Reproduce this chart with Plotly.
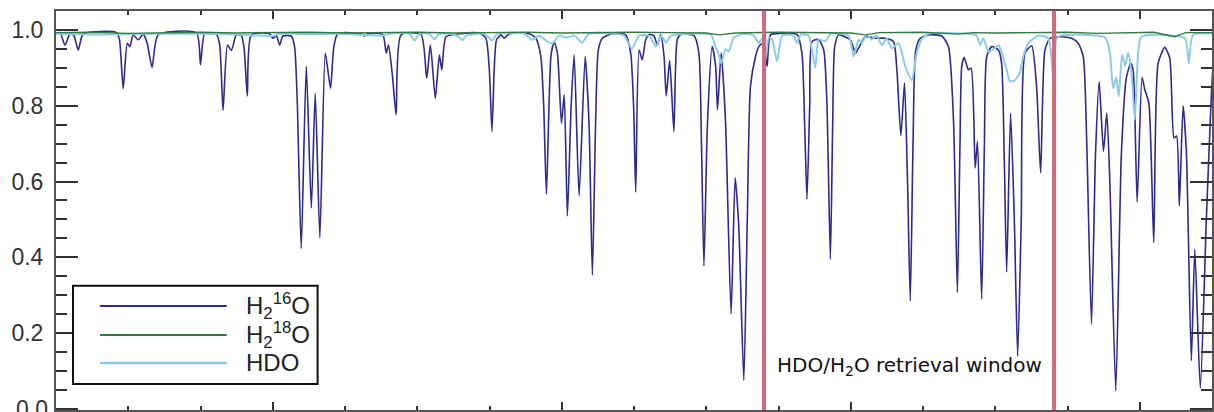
import plotly.graph_objects as go

# wavelength (nm) and transmission for H2(16)O
h216o_x = [2305.00, 2305.28, 2305.62, 2305.97, 2306.24, 2306.54, 2306.89, 2309.19, 2309.39, 2309.65,
           2309.93, 2310.11, 2310.34, 2310.69, 2311.03, 2311.31, 2311.65, 2312.07, 2314.72, 2315.00,
           2315.29, 2316.10, 2316.33, 2316.56, 2316.87, 2317.14, 2317.48, 2317.83, 2318.02, 2318.24,
           2318.52, 2319.78, 2320.01, 2320.25, 2320.48, 2320.70, 2321.28, 2321.51, 2321.70, 2321.97,
           2322.32, 2322.67, 2322.94, 2323.26, 2323.63, 2323.81, 2324.00, 2324.23, 2324.50, 2326.14,
           2326.35, 2326.56, 2327.61, 2327.85, 2328.01, 2328.28, 2328.54, 2328.88, 2330.26, 2330.65,
           2330.91, 2331.25, 2331.53, 2331.70, 2331.99, 2332.91, 2334.29, 2334.75, 2334.98, 2335.17,
           2335.33, 2335.49, 2335.79, 2336.02, 2336.37, 2337.75, 2338.21, 2338.55, 2338.75, 2338.94,
           2339.25, 2339.47, 2339.70, 2339.98, 2340.17, 2340.39, 2340.65, 2340.86, 2341.20, 2341.62,
           2341.89, 2342.12, 2342.34, 2342.53, 2342.81, 2343.50, 2344.43, 2344.77, 2344.97, 2345.12,
           2345.35, 2345.57, 2345.81, 2346.04, 2346.38, 2346.61, 2346.85, 2347.08, 2347.23, 2347.47,
           2347.76, 2347.99, 2348.23, 2349.15, 2349.49, 2349.67, 2349.84, 2350.08, 2350.41, 2350.65,
           2350.78, 2351.03, 2351.33, 2351.72, 2352.00, 2352.25, 2352.60, 2352.84, 2353.06, 2353.41,
           2353.64, 2353.93, 2354.21, 2354.44, 2355.13, 2356.28, 2356.62, 2356.81, 2356.97, 2357.16,
           2357.32, 2357.78, 2358.13, 2358.35, 2358.59, 2358.75, 2358.89, 2359.16, 2359.97, 2360.32,
           2360.54, 2361.01, 2361.70, 2362.39, 2362.96, 2363.19, 2363.47, 2363.72, 2363.93, 2364.12,
           2364.31, 2364.50, 2364.81, 2365.38, 2366.30, 2366.76, 2367.11, 2367.38, 2367.56, 2367.68,
           2367.85, 2368.14, 2368.33, 2368.61, 2368.77, 2369.06, 2369.25, 2369.41, 2369.75, 2370.22,
           2370.44, 2370.63, 2370.79, 2371.06, 2371.32, 2371.55, 2371.80, 2372.06, 2372.52, 2372.86,
           2373.14, 2373.44, 2373.79, 2374.59, 2375.28, 2375.74, 2376.09, 2376.32, 2376.66, 2376.94,
           2377.19, 2377.49, 2377.72, 2377.93, 2378.34, 2378.73, 2379.07, 2379.38, 2379.54, 2379.82,
           2380.16, 2380.35, 2380.63, 2380.97, 2381.27, 2381.73, 2382.08, 2382.37, 2382.55, 2382.74,
           2383.00, 2383.23, 2383.57, 2383.81, 2384.19, 2384.61, 2384.95, 2385.14]
h216o_y = [0.990, 0.993, 0.960, 0.990, 0.985, 0.947, 0.990, 0.993, 0.975, 0.845,
           0.965, 0.956, 0.987, 0.974, 0.989, 0.965, 0.901, 0.987, 0.992, 0.908,
           0.990, 0.988, 0.960, 0.788, 0.960, 0.946, 0.987, 0.985, 0.950, 0.826,
           0.987, 0.990, 0.978, 0.985, 0.960, 0.984, 0.984, 0.956, 0.807, 0.423,
           0.904, 0.530, 0.833, 0.452, 0.939, 0.895, 0.846, 0.956, 0.990, 0.990,
           0.984, 0.990, 0.988, 0.939, 0.960, 0.880, 0.776, 0.987, 0.988, 0.873,
           0.960, 0.820, 0.934, 0.895, 0.982, 0.990, 0.992, 0.978, 0.900, 0.732,
           0.900, 0.974, 0.987, 0.978, 0.990, 0.990, 0.978, 0.930, 0.800, 0.566,
           0.930, 0.969, 0.939, 0.754, 0.829, 0.509, 0.800, 0.934, 0.563, 0.930,
           0.750, 0.353, 0.750, 0.947, 0.978, 0.990, 0.987, 0.939, 0.800, 0.572,
           0.947, 0.921, 0.974, 0.988, 0.985, 0.960, 0.988, 0.930, 0.826, 0.919,
           0.732, 0.974, 0.988, 0.985, 0.939, 0.700, 0.377, 0.750, 0.956, 0.904,
           0.789, 0.939, 0.760, 0.250, 0.610, 0.482, 0.075, 0.500, 0.851, 0.930,
           0.956, 0.965, 0.904, 0.987, 0.991, 0.988, 0.939, 0.750, 0.553, 0.800,
           0.969, 0.975, 0.947, 0.806, 0.395, 0.750, 0.956, 0.987, 0.974, 0.939,
           0.952, 0.982, 0.978, 0.978, 0.969, 0.895, 0.721, 0.860, 0.600, 0.285,
           0.700, 0.947, 0.978, 0.987, 0.984, 0.956, 0.763, 0.307, 0.700, 0.904,
           0.928, 0.895, 0.899, 0.636, 0.706, 0.289, 0.700, 0.930, 0.956, 0.947,
           0.912, 0.650, 0.361, 0.780, 0.500, 0.139, 0.500, 0.939, 0.958, 0.850,
           0.623, 0.947, 0.978, 0.982, 0.978, 0.965, 0.930, 0.720, 0.224, 0.675,
           0.864, 0.680, 0.781, 0.600, 0.048, 0.675, 0.873, 0.912, 0.895, 0.546,
           0.875, 0.842, 0.807, 0.439, 0.912, 0.954, 0.925, 0.715, 0.720, 0.535,
           0.800, 0.675, 0.127, 0.421, 0.054, 0.500, 0.825, 0.950]

# HDO
hdo_x = [2305.00, 2308.04, 2311.49, 2314.95, 2317.71, 2320.00, 2320.48, 2322.55, 2324.62, 2327.59,
         2328.07, 2329.46, 2329.80, 2330.15, 2330.84, 2331.18, 2331.53, 2332.56, 2332.91, 2333.12,
         2333.39, 2334.64, 2335.19, 2335.54, 2337.40, 2337.95, 2338.44, 2338.99, 2339.34, 2339.82,
         2340.30, 2340.86, 2341.41, 2341.89, 2343.62, 2344.31, 2344.86, 2345.35, 2346.04, 2346.52,
         2346.87, 2347.22, 2347.56, 2348.80, 2350.32, 2350.60, 2350.88, 2351.03, 2351.34, 2351.56,
         2351.91, 2352.60, 2353.29, 2353.64, 2353.91, 2354.12, 2354.33, 2354.56, 2354.90, 2355.25,
         2356.05, 2356.28, 2356.54, 2357.09, 2357.30, 2357.55, 2357.78, 2358.24, 2358.61, 2359.85,
         2360.20, 2360.54, 2360.75, 2361.12, 2361.44, 2361.79, 2362.15, 2362.48, 2362.84, 2363.31,
         2363.77, 2364.23, 2364.57, 2364.92, 2365.38, 2368.14, 2368.72, 2368.95, 2369.18, 2369.53,
         2369.99, 2370.22, 2370.44, 2370.79, 2371.02, 2371.37, 2371.71, 2371.94, 2372.29, 2372.98,
         2373.67, 2374.01, 2374.22, 2374.50, 2377.59, 2377.93, 2378.16, 2378.37, 2378.55, 2378.78,
         2378.99, 2379.20, 2379.43, 2379.66, 2379.89, 2380.12, 2383.11, 2383.39, 2383.69, 2385.14]
hdo_y = [0.990, 0.988, 0.990, 0.990, 0.988, 0.984, 0.990, 0.989, 0.990, 0.985,
         0.990, 0.990, 0.972, 0.990, 0.990, 0.975, 0.990, 0.988, 0.980, 0.973,
         0.985, 0.990, 0.973, 0.990, 0.990, 0.974, 0.985, 0.970, 0.964, 0.985,
         0.980, 0.985, 0.967, 0.990, 0.990, 0.985, 0.950, 0.985, 0.985, 0.956,
         0.985, 0.967, 0.985, 0.990, 0.988, 0.960, 0.934, 0.912, 0.950, 0.943,
         0.980, 0.990, 0.985, 0.965, 0.980, 0.930, 0.980, 0.975, 0.917, 0.985,
         0.985, 0.965, 0.988, 0.985, 0.950, 0.900, 0.975, 0.970, 0.990, 0.985,
         0.930, 0.975, 0.965, 0.987, 0.975, 0.985, 0.960, 0.978, 0.952, 0.965,
         0.904, 0.868, 0.940, 0.975, 0.990, 0.990, 0.985, 0.960, 0.978, 0.943,
         0.952, 0.960, 0.940, 0.895, 0.864, 0.868, 0.888, 0.930, 0.965, 0.985,
         0.978, 0.877, 0.975, 0.985, 0.980, 0.939, 0.846, 0.875, 0.825, 0.935,
         0.905, 0.940, 0.885, 0.763, 0.939, 0.982, 0.978, 0.912, 0.987, 0.990]

# H2(18)O
h218o_x = [2305.0, 2307.5, 2310.0, 2312.5, 2315.0, 2317.5, 2320.0, 2322.5, 2325.0, 2327.5,
           2330.0, 2332.5, 2335.0, 2337.5, 2340.0, 2342.5, 2345.0, 2347.5, 2350.0, 2350.9,
           2352.0, 2355.0, 2357.5, 2360.0, 2361.0, 2362.0, 2365.0, 2367.4, 2368.5, 2370.0,
           2372.5, 2375.0, 2377.0, 2379.0, 2381.0, 2382.4, 2383.2, 2385.0]
h218o_y = [0.993, 0.994, 0.991, 0.993, 0.994, 0.992, 0.993, 0.994, 0.992, 0.993,
           0.994, 0.992, 0.993, 0.994, 0.992, 0.993, 0.994, 0.993, 0.992, 0.987,
           0.992, 0.994, 0.993, 0.992, 0.987, 0.993, 0.994, 0.989, 0.993, 0.992,
           0.993, 0.994, 0.991, 0.993, 0.994, 0.982, 0.993, 0.993]

window = [2354.0, 2374.07]
series_names = ["H<sub>2</sub><sup>16</sup>O", "H<sub>2</sub><sup>18</sup>O", "HDO"]
colors = ["#2e2a8e", "#2f7d3e", "#8fcbe6"]
y_ticks = [0.0, 0.2, 0.4, 0.6, 0.8, 1.0]
tick_font = dict(family="Liberation Sans", size=23, color="#333")

fig = go.Figure()
fig.add_trace(go.Scatter(x=h216o_x, y=h216o_y, mode="lines", name=series_names[0],
                         line=dict(color=colors[0], width=1.6, shape="spline", smoothing=0.6)))
fig.add_trace(go.Scatter(x=hdo_x, y=hdo_y, mode="lines", name=series_names[2],
                         line=dict(color=colors[2], width=2, shape="spline", smoothing=0.6)))
fig.add_trace(go.Scatter(x=h218o_x, y=h218o_y, mode="lines", name=series_names[1],
                         line=dict(color=colors[1], width=1.4)))

for wx in window:
    fig.add_shape(type="line", x0=wx, x1=wx, y0=0, y1=1, xref="x", yref="paper",
                  line=dict(color="#d06a7c", width=4))

fig.add_annotation(x=(window[0] + window[1]) / 2, y=0.113, xref="x", yref="y",
                   text="HDO/H<sub>2</sub>O retrieval window", showarrow=False,
                   font=dict(family="DejaVu Sans", size=20, color="#111"))

# bottom tick label (the axis would drop it at the figure edge)
fig.add_annotation(xref="paper", yref="y", x=0, y=y_ticks[0], xanchor="right", yanchor="middle",
                   xshift=-6, text=f"{y_ticks[0]:.1f}", showarrow=False, font=tick_font)

# manual legend
fig.add_shape(type="rect", xref="paper", yref="paper", x0=0.0147, x1=0.2263, y0=0.065, y1=0.3115,
              line=dict(color="#111", width=2), fillcolor="white")
leg_y = [0.2607, 0.188, 0.1178]
leg_order = [0, 1, 2]
for yy, i in zip(leg_y, leg_order):
    fig.add_shape(type="line", xref="paper", yref="paper", x0=0.038, x1=0.1477, y0=yy, y1=yy,
                  line=dict(color=colors[i], width=1.8 if i != 2 else 2.5))
    fig.add_annotation(xref="paper", yref="paper", x=0.1625, y=yy, xanchor="left", yanchor="middle",
                       text=series_names[i], showarrow=False,
                       font=dict(family="Liberation Sans", size=24, color="#222"))

fig.update_layout(
    width=1214, height=412,
    margin=dict(l=56, r=0, t=11, b=2),
    paper_bgcolor="white", plot_bgcolor="white",
    showlegend=False,
    font=dict(family="Liberation Sans", color="#333"),
)
fig.update_xaxes(range=[2305, 2385], showgrid=False, zeroline=False, showticklabels=False,
                 showline=True, linecolor="#555", linewidth=2, mirror="allticks",
                 ticks="inside", tickmode="linear", tick0=2320, dtick=20, ticklen=8,
                 tickcolor="#333", tickwidth=1.5,
                 minor=dict(ticks="inside", dtick=5, tick0=2320, ticklen=4, tickcolor="#333", tickwidth=1.5))
fig.update_yaxes(range=[-0.003, 1.05], showgrid=False, zeroline=False,
                 showline=True, linecolor="#555", linewidth=2, mirror="allticks",
                 ticks="inside", tickvals=y_ticks, ticktext=[""] + [f"{v:.1f}" for v in y_ticks[1:]],
                 ticklen=22, tickcolor="#333", tickwidth=1.5,
                 tickfont=tick_font,
                 ticklabelstandoff=6,
                 minor=dict(ticks="inside", dtick=0.05, tick0=0, ticklen=11, tickcolor="#333", tickwidth=1.5))

fig.write_html("out.html")
